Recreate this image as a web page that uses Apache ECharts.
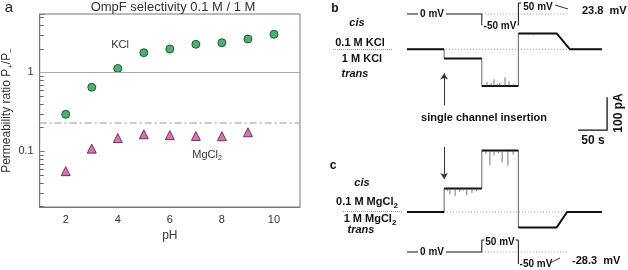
<!DOCTYPE html>
<html><head><meta charset="utf-8">
<script src="https://cdn.jsdelivr.net/npm/echarts@6/dist/echarts.min.js"></script>
<style>html,body{margin:0;padding:0;background:#fff}#c{width:628px;height:270px}</style>
</head><body><div id="c"></div><script>
// ---------- panel a data ----------
const pHKCl = [2, 3, 4, 5, 6, 7, 8, 9, 10];
const ratioKCl = [0.294, 0.646, 1.12, 1.77, 1.97, 2.26, 2.37, 2.64, 3.03];
const pHMgCl2 = [2, 3, 4, 5, 6, 7, 8, 9];
const ratioMgCl2 = [0.056, 0.108, 0.147, 0.164, 0.160, 0.156, 0.155, 0.174];
const unityLine = 1;
const mgDashLine = 0.228;
const xTickLabels = [2, 4, 6, 8, 10];
const yTickLabels = [0.1, 1];
const yMinorTicks = [0.02,0.03,0.04,0.05,0.06,0.07,0.08,0.09,0.2,0.3,0.4,0.5,0.6,0.7,0.8,0.9,2,3,4,5];

// ---------- panels b, c data (time s, current pA, voltage mV) ----------
const stepTimes = [0, 64, 129, 192, 258];
const kclLevels = [0, -28, -111, 48];
const kclRelaxEnd = 281;
const mgLevels = [0, 71, 186, -47];
const mgRelaxEnd = 276;
const traceEnd = 336;
// spikes: [segment index, time, amplitude]
const kclSpikes = [[2,138,12],[2,145,8],[2,150,20],[2,156,6],[2,160,10],[2,169,26],[2,176,14],[2,184,6],
                   [3,205,-4],[3,218,-5],[3,232,-3],[3,246,-4]];
const mgSpikes = [[1,70,-8],[1,74,-18],[1,83,-22],[1,91,-10],[1,97,-6],[1,103,-20],[1,112,-14],[1,120,-8],
                  [2,136,-10],[2,143,-44],[2,150,-14],[2,158,-8],[2,164,-36],[2,174,-46],[2,183,-12]];
const kclVoltage = [[0,0],[129,0],[129,-50],[192,-50],[192,50],[197,50]];
const mgVoltage = [[0,0],[129,0],[129,50],[192,50],[192,-50]];
const kclReversal = 23.8;
const mgReversal = -28.3;
const scaleBarTime = 50;   // s
const scaleBarCurrent = 100; // pA

function buildTrace(levels, relaxEnd) {
  const d = [];
  for (let i = 0; i < levels.length; i++) {
    d.push([stepTimes[i], levels[i]]);
    d.push([stepTimes[i + 1], levels[i]]);
  }
  d.push([relaxEnd, 0]);
  d.push([traceEnd, 0]);
  return d;
}
function buildPlateaus(levels, relaxEnd) {
  const d = [];
  for (let i = 0; i < levels.length; i++) {
    d.push([stepTimes[i], levels[i]]);
    d.push([stepTimes[i + 1], levels[i]]);
    if (i < levels.length - 1) d.push('-');
  }
  d.push([relaxEnd, 0]);
  d.push([traceEnd, 0]);
  return d;
}
function buildSpikes(levels, spikes) {
  const d = [];
  spikes.forEach(s => {
    const L = levels[s[0]];
    d.push([s[1], L]); d.push([s[1], L + s[2]]); d.push('-');
  });
  return d;
}

const FONT = 'Liberation Sans, Arial, sans-serif';
const chart = echarts.init(document.getElementById('c'));

function txt(x, y, text, opt) {
  opt = opt || {};
  return {type:'text', x:x, y:y, z:100, rotation: opt.rotation || 0,
    style:Object.assign({text:text, fill:'#111', font:(opt.font || 'bold 11px ' + FONT),
      align:opt.align || 'center', verticalAlign:'middle'}, opt.style || {})};
}
function ln(x1,y1,x2,y2,stroke,dash,w){
  return {type:'line', z:100, shape:{x1:x1,y1:y1,x2:x2,y2:y2},
    style:{stroke:stroke||'#111', lineWidth:w||1, lineDash:dash||null}};
}
const subRich = {sub:{fontSize:8, fontWeight:'bold', fontFamily:FONT, padding:[7,0,0,0]}};

const hiddenX = (gi) => ({type:'value', gridIndex:gi, min:0, max:350, show:false});
const hiddenY = (gi, mn, mx) => ({type:'value', gridIndex:gi, min:mn, max:mx, show:false});

const traceSeries = (ax, levels, spikes, relaxEnd) => [
  {type:'line', xAxisIndex:ax, yAxisIndex:ax, data:buildTrace(levels, relaxEnd),
   symbol:'none', lineStyle:{color:'#666', width:1}, z:3},
  {type:'line', xAxisIndex:ax, yAxisIndex:ax, data:buildPlateaus(levels, relaxEnd), connectNulls:false,
   symbol:'none', lineStyle:{color:'#111', width:2}, z:4},
  {type:'line', xAxisIndex:ax, yAxisIndex:ax, data:buildSpikes(levels, spikes), connectNulls:false,
   symbol:'none', lineStyle:{color:'#555', width:0.8}, z:4}
];

const option = {
  animation:false,
  backgroundColor:'#fff',
  grid:[
    {left:37, top:14, width:263, height:193, show:true, borderColor:'#777', borderWidth:1},
    {left:407, top:29.5, width:203, height:105.6},   // b current
    {left:407, top:0.8, width:203, height:26.4},     // b voltage
    {left:407, top:142.7, width:203, height:89.1},   // c current
    {left:407, top:237.6, width:203, height:28.8}    // c voltage
  ],
  xAxis:[
    {type:'value', gridIndex:0, min:1, max:11, interval:1,
     name:'pH', nameLocation:'middle', nameGap:20,
     nameTextStyle:{fontFamily:FONT, fontSize:12, color:'#333'},
     axisLine:{lineStyle:{color:'#777'}},
     axisTick:{show:false},
     axisLabel:{fontFamily:FONT, fontSize:11, color:'#333', margin:7,
       formatter:v => xTickLabels.indexOf(v) >= 0 ? String(v) : ''},
     splitLine:{show:false}},
    hiddenX(1), hiddenX(2), hiddenX(3), hiddenX(4)
  ],
  yAxis:[
    {type:'log', logBase:10, gridIndex:0, min:0.0197, max:5.47,
     name:'Permeability ratio P{sub|+}/P{sub|−}', nameLocation:'middle', nameGap:24, nameRotate:90,
     nameTextStyle:{fontFamily:FONT, fontSize:12, color:'#333',
       rich:{sub:{fontSize:8, fontFamily:FONT, color:'#333', padding:[7,0,0,0]}}},
     axisLine:{lineStyle:{color:'#777'}},
     axisTick:{show:true, inside:true, length:5, lineStyle:{color:'#777'}},
     axisLabel:{fontFamily:FONT, fontSize:11, color:'#333', margin:6,
       formatter:v => { const r = yTickLabels.find(t => Math.abs(t - v) < 1e-9); return r === undefined ? '' : String(r); }},
     splitLine:{show:false}},
    hiddenY(1, -260, 60), hiddenY(2, -60, 60), hiddenY(3, -60, 210), hiddenY(4, -60, 60)
  ],
  series:[
    // minor log ticks on the left axis
    {type:'custom', xAxisIndex:0, yAxisIndex:0, silent:true, z:5, clip:false,
     encode:{x:0, y:1},
     data:yMinorTicks.map(v => [1, v]),
     renderItem:(params, api) => {
       const p = api.coord([api.value(0), api.value(1)]);
       const yy = Math.round(p[1]) + 0.5;
       return {type:'line', shape:{x1:p[0], y1:yy, x2:p[0] + 4, y2:yy},
               style:{stroke:'#666', lineWidth:1}};
     }},
    {type:'scatter', name:'KCl', xAxisIndex:0, yAxisIndex:0,
     data:pHKCl.map((p,i)=>[p, ratioKCl[i]]), symbol:'circle', symbolSize:8,
     itemStyle:{color:'#1f9d4c', borderColor:'#15391f', borderWidth:1},
     markLine:{silent:true, symbol:'none', label:{show:false},
       data:[{yAxis:unityLine, lineStyle:{color:'#aaa', width:1, type:'solid'}},
             {yAxis:mgDashLine, lineStyle:{color:'#bbb', width:1.5, type:[7,3,2,3]}}]}},
    {type:'scatter', name:'MgCl2', xAxisIndex:0, yAxisIndex:0,
     data:pHMgCl2.map((p,i)=>[p, ratioMgCl2[i]]), symbol:'triangle', symbolSize:9,
     itemStyle:{color:'#d24fa2', borderColor:'#4a1c3a', borderWidth:1}},

    // b: baseline dotted
    {type:'line', xAxisIndex:1, yAxisIndex:1, data:[[0,0],[traceEnd,0]], symbol:'none', z:1,
     lineStyle:{color:'#999', width:1, type:[1,2]}},
    ...traceSeries(1, kclLevels, kclSpikes, kclRelaxEnd),
    {type:'line', xAxisIndex:1, yAxisIndex:1, data:[], symbol:'none',
     markLine:{silent:true, symbol:['none','arrow'], symbolSize:6, label:{show:false},
       lineStyle:{color:'#333', width:1, type:'solid'},
       data:[[{coord:[stepTimes[1], -170]}, {coord:[stepTimes[1], -73]}]]}},
    // scale bar
    {type:'line', xAxisIndex:1, yAxisIndex:1, symbol:'none', lineStyle:{color:'#111', width:1.3},
     data:[[295,-245],[295+scaleBarTime,-245],[295+scaleBarTime,-245+scaleBarCurrent]]},
    // b voltage
    {type:'line', xAxisIndex:2, yAxisIndex:2, data:[[stepTimes[2],0],[277,0]], symbol:'none', z:1,
     lineStyle:{color:'#999', width:1, type:[1,2]}},
    {type:'line', xAxisIndex:2, yAxisIndex:2, data:kclVoltage, symbol:'none',
     lineStyle:{color:'#111', width:1}},

    // c baseline dotted
    {type:'line', xAxisIndex:3, yAxisIndex:3, data:[[stepTimes[1],0],[mgRelaxEnd,0]], symbol:'none', z:1,
     lineStyle:{color:'#999', width:1, type:[1,2]}},
    ...traceSeries(3, mgLevels, mgSpikes, mgRelaxEnd),
    {type:'line', xAxisIndex:3, yAxisIndex:3, data:[], symbol:'none',
     markLine:{silent:true, symbol:['none','arrow'], symbolSize:6, label:{show:false},
       lineStyle:{color:'#333', width:1, type:'solid'},
       data:[[{coord:[stepTimes[1], 197]}, {coord:[stepTimes[1], 100]}]]}},
    // c voltage
    {type:'line', xAxisIndex:4, yAxisIndex:4, data:[[stepTimes[2],0],[277,0]], symbol:'none', z:1,
     lineStyle:{color:'#999', width:1, type:[1,2]}},
    {type:'line', xAxisIndex:4, yAxisIndex:4, data:mgVoltage, symbol:'none',
     lineStyle:{color:'#111', width:1}}
  ],
  graphic:[
    // panel a
    txt(9, 8, 'a', {font:'15px ' + FONT, style:{fill:'#222'}}),
    txt(173, 7, 'OmpF selectivity 0.1 M / 1 M', {font:'13px ' + FONT, style:{fill:'#333'}}),
    txt(120, 45, 'KCl', {font:'11px ' + FONT, style:{fill:'#333'}}),
    txt(207, 155, 'MgCl{s|2}', {font:'11px ' + FONT, style:{fill:'#333',
      rich:{s:{fontSize:7, fontFamily:FONT, fill:'#333', padding:[6,0,0,0]}}}}),
    // panel b
    txt(335, 9, 'b', {font:'bold 12px ' + FONT}),
    txt(357, 23, 'cis', {font:'italic bold 11px ' + FONT}),
    txt(360, 43, '0.1 M KCl'),
    ln(333, 49.5, 392, 49.5, '#999', [1,1]),
    txt(362, 59, '1 M KCl'),
    txt(355, 74, 'trans', {font:'italic bold 11px ' + FONT}),
    txt(432, 14, '0 mV', {font:'bold 10px ' + FONT, style:{backgroundColor:'#fff', padding:[1,2]}}),
    txt(500, 26, '-50 mV', {font:'bold 10px ' + FONT, style:{backgroundColor:'#fff', padding:[1,1]}}),
    txt(538, 7, '50 mV', {font:'bold 10px ' + FONT}),
    ln(555, 5, 568, 9, '#333'),
    txt(582, 11, '23.8  mV', {align:'left', font:'bold 11px ' + FONT}),
    txt(484, 118, 'single channel insertion'),
    txt(593, 141, '50 s', {font:'bold 12px ' + FONT}),
    txt(619, 113, '100 pA', {font:'bold 12px ' + FONT, rotation:Math.PI/2}),
    // panel c
    txt(333, 166, 'c', {font:'bold 12px ' + FONT}),
    txt(362, 183, 'cis', {font:'italic bold 11px ' + FONT}),
    txt(367, 202, '0.1 M MgCl{sub|2}', {style:{rich:subRich}}),
    ln(343, 211.5, 402, 211.5, '#999', [1,1]),
    txt(370, 219, '1 M MgCl{sub|2}', {style:{rich:subRich}}),
    txt(361, 230, 'trans', {font:'italic bold 11px ' + FONT}),
    txt(432, 252, '0 mV', {font:'bold 10px ' + FONT, style:{backgroundColor:'#fff', padding:[1,2]}}),
    txt(500, 242, '50 mV', {font:'bold 10px ' + FONT, style:{backgroundColor:'#fff', padding:[1,1]}}),
    txt(536, 264, '-50 mV', {font:'bold 10px ' + FONT}),
    ln(550, 263, 560, 258, '#333'),
    txt(572, 261, '-28.3  mV', {align:'left', font:'bold 11px ' + FONT})
  ]
};
chart.setOption(option);
</script></body></html>
